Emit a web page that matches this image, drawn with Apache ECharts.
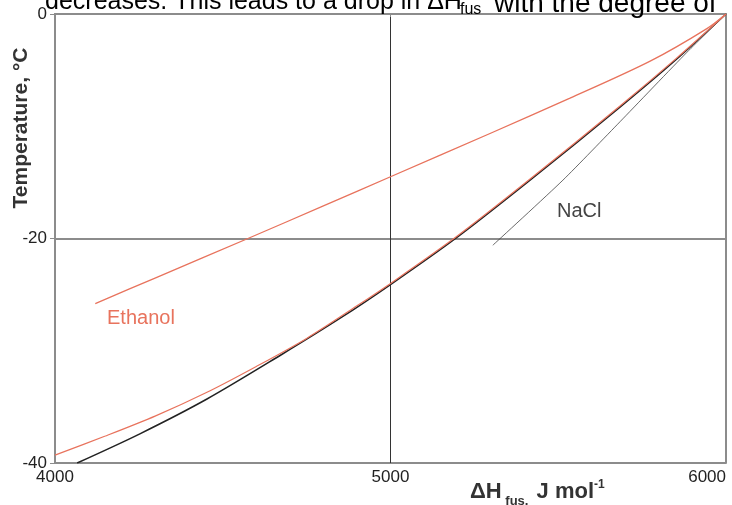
<!DOCTYPE html>
<html>
<head>
<meta charset="utf-8">
<script src="https://cdn.jsdelivr.net/npm/echarts@6/dist/echarts.min.js"></script>
<style>
html,body{margin:0;padding:0;background:#fff;}
#chart{width:732px;height:505px;}
</style>
</head>
<body>
<div id="chart"></div>
<script>
// Data
var xTicks = [4000, 5000, 6000];
var yTicks = [0, -20, -40];

var ethanolUpperX = [4120, 4300, 4575, 4800, 5000, 5300, 5535, 5774, 5943, 6000];
var ethanolUpperY = [-25.8, -23.5, -20.0, -17.1, -14.5, -10.6, -7.5, -4.2, -1.3, 0];

var ethanolLowerX = [4000, 4150, 4300, 4453, 4600, 4750, 4900, 5000, 5198, 5416, 5684, 5850, 6000];
var ethanolLowerY = [-39.3, -37.6, -35.8, -33.7, -31.4, -28.9, -26.0, -24.0, -19.8, -14.7, -8.2, -4.0, 0];

var referenceX = [4066, 4253, 4453, 4672, 4850, 5000, 5198, 5416, 5684, 5850, 6000];
var referenceY = [-40, -37.4, -34.3, -30.4, -27.1, -24.1, -19.9, -14.8, -8.3, -4.1, 0];

var naclX = [5305, 5514, 5684, 5884, 6000];
var naclY = [-20.6, -14.8, -9.6, -3.4, 0];

function pairs(xs, ys) { return xs.map(function (x, i) { return [x, ys[i]]; }); }

var chart = echarts.init(document.getElementById('chart'), null, {renderer: 'canvas'});
var gray = '#8c8c8c';
var red = '#e8735d';
var FONT = '"Liberation Sans", Arial, sans-serif';

chart.setOption({
  animation: false,
  backgroundColor: '#fff',
  grid: {left: 55, right: 6, top: 14, bottom: 42},
  xAxis: [{
    type: 'value', min: xTicks[0], max: xTicks[xTicks.length - 1], interval: 1000,
    axisLine: {show: true, lineStyle: {color: gray, width: 2}},
    axisTick: {show: true, length: 3, lineStyle: {color: gray}},
    axisLabel: {color: '#222', fontSize: 17, fontFamily: FONT, margin: 6, alignMaxLabel: 'right',
                formatter: function (v) { return String(v); }},
    splitLine: {show: true, lineStyle: {color: '#333', width: 1}}
  }, {
    type: 'value', position: 'top', min: xTicks[0], max: xTicks[xTicks.length - 1],
    axisLine: {show: true, lineStyle: {color: gray, width: 2}},
    axisTick: {show: false}, axisLabel: {show: false}, splitLine: {show: false}
  }],
  yAxis: [{
    type: 'value', min: yTicks[yTicks.length - 1], max: yTicks[0], interval: 20,
    axisLine: {show: true, lineStyle: {color: gray, width: 2}},
    axisTick: {show: true, length: 5, lineStyle: {color: gray}},
    axisLabel: {color: '#222', fontSize: 17, fontFamily: FONT, margin: 8},
    splitLine: {show: true, lineStyle: {color: gray, width: 2}}
  }, {
    type: 'value', position: 'right', min: yTicks[yTicks.length - 1], max: yTicks[0],
    axisLine: {show: true, lineStyle: {color: gray, width: 2}},
    axisTick: {show: false}, axisLabel: {show: false}, splitLine: {show: false}
  }],
  series: [
    {name: 'Reference', type: 'line', data: pairs(referenceX, referenceY), smooth: 0.3, symbol: 'none',
     lineStyle: {color: '#222', width: 1.5}, z: 3},
    {name: 'Ethanol lower', type: 'line', data: pairs(ethanolLowerX, ethanolLowerY), smooth: 0.3, symbol: 'none',
     lineStyle: {color: red, width: 1.2}, z: 4},
    {name: 'Ethanol upper', type: 'line', data: pairs(ethanolUpperX, ethanolUpperY), smooth: 0.3, symbol: 'none',
     lineStyle: {color: red, width: 1.3}, z: 4},
    {name: 'NaCl', type: 'line', data: pairs(naclX, naclY), smooth: 0.2, symbol: 'none',
     lineStyle: {color: '#444', width: 0.8}, z: 3}
  ],
  graphic: [
    {type: 'text', left: 45, top: -10, z: 10,
     style: {text: 'decreases. This leads to a drop in ΔH', font: '25px ' + FONT, fill: '#000'}},
    {type: 'text', left: 460, top: 2, z: 10,
     style: {text: 'fus', font: '16px ' + FONT, fill: '#000'}},
    {type: 'text', left: 494, top: -10, z: 10,
     style: {text: 'with the degree of', font: '28px ' + FONT, fill: '#000'}},
    {type: 'text', left: 107, top: 308, z: 10,
     style: {text: 'Ethanol', font: '20px ' + FONT, fill: red}},
    {type: 'text', left: 557, top: 201, z: 10,
     style: {text: 'NaCl', font: '20px ' + FONT, fill: '#444'}},
    {type: 'text', x: 21, y: 128, rotation: Math.PI / 2, z: 10,
     style: {text: 'Temperature, °C', font: 'bold 21px ' + FONT, fill: '#333', align: 'center', verticalAlign: 'middle'}},
    {type: 'text', left: 470, top: 479, z: 10,
     style: {
       text: '{a|ΔH}{s| fus,}{a| J mol}{p|-1}',
       rich: {
         a: {font: 'bold 22px ' + FONT, fill: '#333', verticalAlign: 'bottom'},
         s: {font: 'bold 13px ' + FONT, fill: '#333', verticalAlign: 'bottom', padding: [0, 2, -5, 0]},
         p: {font: 'bold 12px ' + FONT, fill: '#333', verticalAlign: 'top', padding: [0, 0, 12, 0]}
       }
     }}
  ]
});
</script>
</body>
</html>
